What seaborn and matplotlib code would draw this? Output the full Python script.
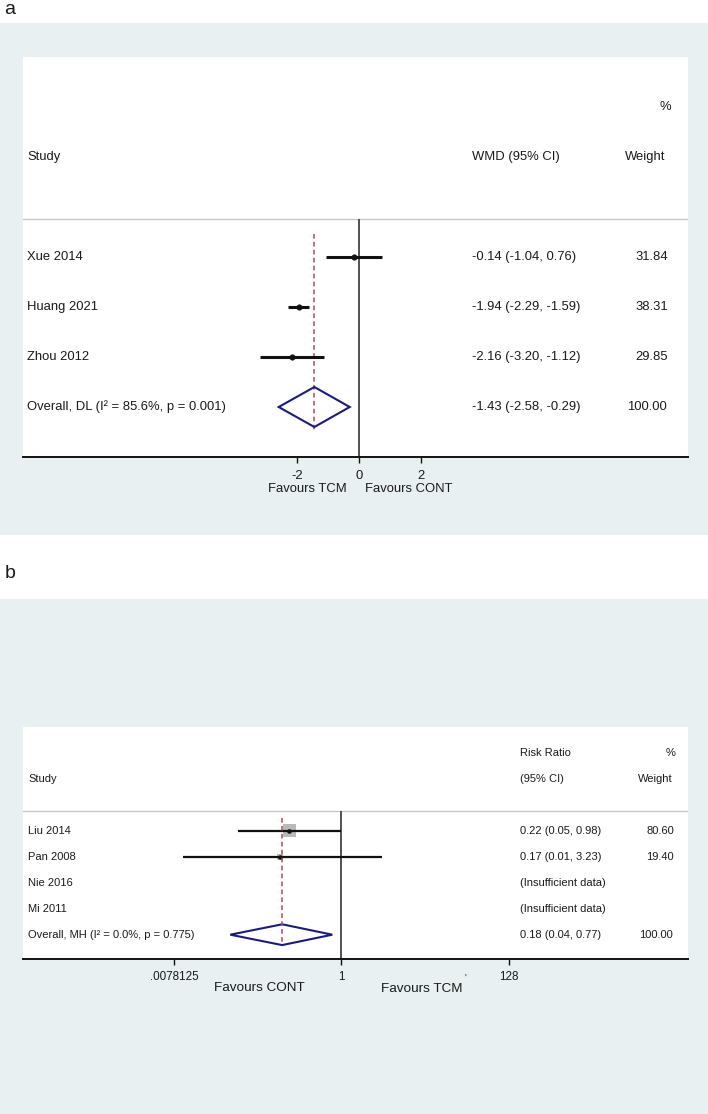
import numpy as np
import pandas as pd
import matplotlib
matplotlib.use("Agg")
import matplotlib.pyplot as plt
import seaborn as sns
from matplotlib.patches import Rectangle, Polygon
from matplotlib.transforms import blended_transform_factory
from matplotlib.ticker import NullLocator

# ---------------- data: panel a (WMD) ----------------
studies_a = ["Xue 2014", "Huang 2021", "Zhou 2012"]
wmd_a = [-0.14, -1.94, -2.16]
lo_a = [-1.04, -2.29, -3.20]
hi_a = [0.76, -1.59, -1.12]
weight_a = [31.84, 38.31, 29.85]
overall_a = [-1.43, -2.58, -0.29]   # estimate, lower, upper
i2_a, p_a = 85.6, 0.001
ticks_a = [-2, 0, 2]
tick_labels_a = ["-2", "0", "2"]

# ---------------- data: panel b (Risk ratio) ----------------
studies_b = ["Liu 2014", "Pan 2008", "Nie 2016", "Mi 2011"]
rr_b = [0.22, 0.17, np.nan, np.nan]
lo_b = [0.05, 0.01, np.nan, np.nan]
hi_b = [0.98, 3.23, np.nan, np.nan]
weight_b = [80.60, 19.40, np.nan, np.nan]
overall_b = [0.18, 0.04, 0.77]
i2_b, p_b = 0.0, 0.775
ticks_b = [0.0078125, 1, 128]
tick_labels_b = [".0078125", "1", "128"]

# ---------------- style ----------------
sns.set_style("white")
plt.rcParams["font.family"] = ["Liberation Sans", "DejaVu Sans"]
TXT = "#1a1a1a"
BG = "#E8F0F2"
RED = "#b04a55"
NAVY = "#1c1c7a"

W, H = 708, 1114
fig = plt.figure(figsize=(W / 100, H / 100), dpi=100)
fig.patch.set_facecolor("white")


def fx(px):
    return px / W


def fy(py):
    return 1 - py / H


# panel backgrounds
fig.patches.append(Rectangle((0, fy(535)), 1, (535 - 22.7) / H, transform=fig.transFigure,
                             facecolor=BG, edgecolor="none", zorder=-5))
fig.patches.append(Rectangle((0, fy(1114)), 1, (1114 - 599) / H, transform=fig.transFigure,
                             facecolor=BG, edgecolor="none", zorder=-5))

fig.text(fx(4), fy(10), "a", fontsize=14, color=TXT, ha="left", va="center")
fig.text(fx(5), fy(573), "b", fontsize=14, color=TXT, ha="left", va="center")

LEFT, RIGHT = 23, 688


def make_axes(top, bottom):
    ax = fig.add_axes([fx(LEFT), fy(bottom), fx(RIGHT) - fx(LEFT), fy(top) - fy(bottom)])
    ax.set_facecolor("white")
    ax.set_zorder(1)
    for s in ["top", "left", "right"]:
        ax.spines[s].set_visible(False)
    ax.spines["bottom"].set_color("#111111")
    ax.spines["bottom"].set_linewidth(1.4)
    ax.tick_params(axis="y", left=False, labelleft=False)
    return ax


def colx(px):
    return (px - LEFT) / (RIGHT - LEFT)


# =============== Panel a ===============
ax = make_axes(57, 456.7)
tr = blended_transform_factory(ax.transAxes, ax.transData)
rows_a = list(range(len(studies_a)))
orow_a = len(studies_a)
fs_a = 9.4

ax.axhline(-0.76, color="#c8c8c8", lw=1.0, zorder=1)
ax.vlines(0, -0.76, 4, color="#333333", lw=1.2, zorder=2)
ax.vlines(overall_a[0], -0.46, orow_a + 0.46, color=RED, lw=1.1,
          linestyles=(0, (3, 2.2)), zorder=3)
ax.hlines(rows_a, lo_a, hi_a, color="#111111", lw=2.2, zorder=4)
df_a = pd.DataFrame({"est": wmd_a, "row": rows_a})
sns.scatterplot(data=df_a, x="est", y="row", ax=ax, color="#111111", s=16,
                marker="o", edgecolor="#111111", legend=False, zorder=5)
dia = Polygon([(overall_a[1], orow_a), (overall_a[0], orow_a - 0.4),
               (overall_a[2], orow_a), (overall_a[0], orow_a + 0.4)],
              closed=True, facecolor="none", edgecolor=NAVY, lw=1.5, zorder=4)
ax.add_patch(dia)

x0_a, k_a = 358.7, 31.0
ax.set_xlim((LEFT - x0_a) / k_a, (RIGHT - x0_a) / k_a)
ax.set_ylim(3.994, -4.0)
ax.set_xlabel("")
ax.set_ylabel("")
ax.set_xticks(ticks_a)
ax.set_xticklabels(tick_labels_a)
ax.tick_params(axis="x", bottom=True, direction="out", length=4.3, width=1.0, pad=5.0,
               labelsize=fs_a, colors="#111111", labelcolor=TXT)

ax.text(colx(671), -3, "%", transform=tr, ha="right", va="center", fontsize=fs_a, color=TXT)
ax.text(colx(27), -2, "Study", transform=tr, ha="left", va="center", fontsize=fs_a, color=TXT)
ax.text(colx(472), -2, "WMD (95% CI)", transform=tr, ha="left", va="center", fontsize=fs_a, color=TXT)
ax.text(colx(665), -2, "Weight", transform=tr, ha="right", va="center", fontsize=fs_a, color=TXT)
for r, name, e, l, h, w in zip(rows_a, studies_a, wmd_a, lo_a, hi_a, weight_a):
    ax.text(colx(27), r, name, transform=tr, ha="left", va="center", fontsize=fs_a, color=TXT)
    ax.text(colx(472), r, f"{e:.2f} ({l:.2f}, {h:.2f})", transform=tr, ha="left",
            va="center", fontsize=fs_a, color=TXT)
    ax.text(colx(668), r, f"{w:.2f}", transform=tr, ha="right", va="center", fontsize=fs_a, color=TXT)
ax.text(colx(27), orow_a, f"Overall, DL (I\u00b2 = {i2_a:.1f}%, p = {p_a:.3f})", transform=tr,
        ha="left", va="center", fontsize=fs_a, color=TXT)
ax.text(colx(472), orow_a, f"{overall_a[0]:.2f} ({overall_a[1]:.2f}, {overall_a[2]:.2f})",
        transform=tr, ha="left", va="center", fontsize=fs_a, color=TXT)
ax.text(colx(667), orow_a, f"{100:.2f}", transform=tr, ha="right", va="center", fontsize=fs_a, color=TXT)

fig.text(fx(307), fy(489.5), "Favours TCM", ha="center", va="center", fontsize=9.4, color=TXT)
fig.text(fx(408.6), fy(489.5), "Favours CONT", ha="center", va="center", fontsize=9.4, color=TXT)

# =============== Panel b ===============
ax = make_axes(727, 958.6)
tr = blended_transform_factory(ax.transAxes, ax.transData)
rows_b = list(range(len(studies_b)))
orow_b = len(studies_b)
fs_b = 8.0

ax.set_xscale("log", base=2)
ax.axhline(-0.76, color="#c8c8c8", lw=1.0, zorder=1)
ax.vlines(1, -0.76, 4.92, color="#333333", lw=1.2, zorder=2)
ax.vlines(overall_b[0], -0.49, orow_b + 0.4, color=RED, lw=1.1,
          linestyles=(0, (3, 2.2)), zorder=6)
ax.hlines(rows_b, lo_b, hi_b, color="#111111", lw=1.6, zorder=4)
df_b = pd.DataFrame({"est": rr_b, "row": rows_b, "weight": weight_b}).dropna()
sns.scatterplot(data=df_b, x="est", y="row", size="weight", sizes=(20, 90), ax=ax,
                marker="s", color="#b9b9b9", edgecolor="none", legend=False, zorder=3)
sns.scatterplot(data=df_b, x="est", y="row", ax=ax, color="#111111", s=9,
                marker="o", edgecolor="#111111", legend=False, zorder=5)
dia = Polygon([(overall_b[1], orow_b), (overall_b[0], orow_b - 0.4),
               (overall_b[2], orow_b), (overall_b[0], orow_b + 0.4)],
              closed=True, facecolor="none", edgecolor=NAVY, lw=1.5, zorder=4)
ax.add_patch(dia)

x0_b, k_b = 341.3, 23.9
ax.set_xlim(2 ** ((LEFT - x0_b) / k_b), 2 ** ((RIGHT - x0_b) / k_b))
ax.set_ylim(4.92, -3.99)
ax.set_xlabel("")
ax.set_ylabel("")
ax.set_xticks(ticks_b)
ax.set_xticklabels(tick_labels_b)
ax.xaxis.set_minor_locator(NullLocator())
ax.tick_params(axis="x", bottom=True, direction="out", length=4.3, width=1.0, pad=4.7,
               labelsize=8.4, colors="#111111", labelcolor=TXT)

ax.text(colx(520), -3, "Risk Ratio", transform=tr, ha="left", va="center", fontsize=fs_b, color=TXT)
ax.text(colx(675), -3, "%", transform=tr, ha="right", va="center", fontsize=fs_b, color=TXT)
ax.text(colx(28), -2, "Study", transform=tr, ha="left", va="center", fontsize=fs_b, color=TXT)
ax.text(colx(520), -2, "(95% CI)", transform=tr, ha="left", va="center", fontsize=fs_b, color=TXT)
ax.text(colx(673), -2, "Weight", transform=tr, ha="right", va="center", fontsize=fs_b, color=TXT)
for r, name, e, l, h, w in zip(rows_b, studies_b, rr_b, lo_b, hi_b, weight_b):
    ax.text(colx(28), r, name, transform=tr, ha="left", va="center", fontsize=fs_b, color=TXT)
    if np.isnan(e):
        ax.text(colx(520), r, "(Insufficient data)", transform=tr, ha="left", va="center",
                fontsize=fs_b, color=TXT)
    else:
        ax.text(colx(520), r, f"{e:.2f} ({l:.2f}, {h:.2f})", transform=tr, ha="left",
                va="center", fontsize=fs_b, color=TXT)
        ax.text(colx(674), r, f"{w:.2f}", transform=tr, ha="right", va="center",
                fontsize=fs_b, color=TXT)
ax.text(colx(28), orow_b, f"Overall, MH (I\u00b2 = {i2_b:.1f}%, p = {p_b:.3f})", transform=tr,
        ha="left", va="center", fontsize=fs_b, color=TXT)
ax.text(colx(520), orow_b, f"{overall_b[0]:.2f} ({overall_b[1]:.2f}, {overall_b[2]:.2f})",
        transform=tr, ha="left", va="center", fontsize=fs_b, color=TXT)
ax.text(colx(673), orow_b, f"{100:.2f}", transform=tr, ha="right", va="center", fontsize=fs_b, color=TXT)

fig.text(fx(259), fy(988), "Favours CONT", ha="center", va="center", fontsize=9.7, color=TXT)
fig.text(fx(422), fy(989), "Favours TCM", ha="center", va="center", fontsize=9.7, color=TXT)
fig.text(fx(465), fy(979), "'", ha="center", va="center", fontsize=7, color="#2a2a55")

fig.savefig("out.png", dpi=100, facecolor="white")
